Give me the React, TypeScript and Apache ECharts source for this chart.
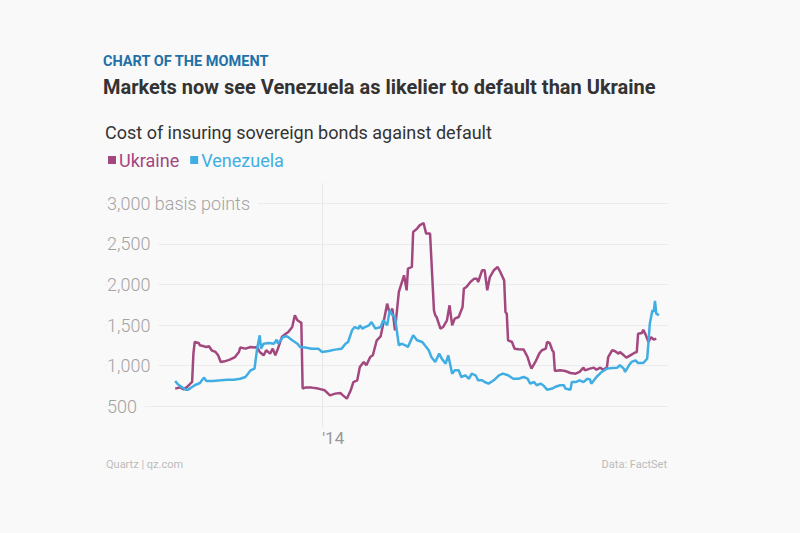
import React, { useEffect, useRef } from 'react';
import * as echarts from 'echarts';

// Days counted from 1 Jan 2014
const ukraineDays = [-113,-109,-107,-104,-100,-99,-98,-95,-94,-91,-89,-87,-85,-82,-80,-78,-75,-71,-67,-64,-63,-59,-55,-52,-50,-48,-45,-43,-40,-38,-36,-34,-31,-28,-26,-23,-21,-19,-17,-16,-15,-13,-8,-3,2,6,10,14,16,19,22,24,27,29,32,34,37,39,42,45,47,50,52,54,56,59,61,63,65,66,69,70,73,75,78,80,83,86,87,88,91,93,96,98,100,102,105,108,109,111,114,117,119,120,123,125,127,129,132,135,137,140,141,142,143,146,148,151,155,158,160,161,164,167,169,172,173,175,177,178,179,183,187,191,195,198,201,202,206,209,211,214,216,219,220,223,225,228,229,232,234,237,240,242,243,246,247,249,251,253,255,257];
const ukraineValues = [718,734,709,737,800,1150,1292,1280,1251,1239,1230,1239,1190,1169,1128,1046,1054,1075,1107,1169,1223,1210,1230,1223,1230,1169,1128,1190,1149,1210,1128,1210,1353,1394,1415,1476,1621,1559,1538,1530,718,730,730,718,697,635,656,664,635,594,697,799,820,984,1046,1005,1107,1128,1313,1362,1518,1764,1641,1703,1436,1908,2011,2113,1928,2195,2216,2647,2688,2729,2757,2627,2627,1682,1621,1600,1456,1476,1559,1744,1497,1580,1600,1723,1949,1969,2031,2072,2072,2031,2175,2175,1928,2092,2175,2216,2154,2051,1662,1641,1313,1292,1210,1202,1198,1107,1005,964,1046,1149,1190,1210,1292,1280,1190,1169,935,943,935,910,902,923,976,943,964,976,951,976,951,976,1107,1190,1182,1149,1169,1128,1099,1128,1157,1169,1394,1403,1444,1374,1292,1353,1321,1333];

const venezuelaDays = [-113,-111,-108,-105,-103,-100,-98,-94,-91,-89,-84,-78,-73,-68,-63,-59,-57,-55,-52,-50,-48,-47,-45,-41,-37,-35,-34,-30,-27,-23,-19,-17,-13,-8,-3,0,5,10,15,18,20,23,25,28,29,31,33,36,38,41,45,47,50,52,54,56,59,61,64,66,70,73,77,79,82,84,87,90,92,95,97,100,102,105,107,110,113,115,118,120,123,125,128,132,136,139,143,147,151,155,158,160,163,165,168,170,173,177,179,183,186,187,191,192,195,198,201,204,206,207,211,215,219,223,227,229,232,233,236,238,241,243,247,250,251,252,254,255,256,257,259];
const venezuelaValues = [812,771,738,705,705,738,759,787,853,812,812,820,828,828,840,861,902,943,964,1210,1374,1210,1271,1280,1271,1321,1271,1353,1362,1313,1271,1230,1223,1210,1210,1169,1182,1198,1210,1271,1292,1436,1476,1456,1497,1456,1476,1497,1538,1456,1476,1559,1497,1682,1621,1600,1251,1271,1251,1230,1374,1313,1292,1251,1190,1107,1046,1149,1087,1025,1128,902,943,943,861,882,840,902,882,820,820,799,779,820,882,902,882,840,840,861,840,779,799,759,779,759,705,718,738,759,759,718,705,799,799,820,799,840,832,779,861,923,964,972,976,1005,964,923,1005,1046,1066,1033,1033,1087,1292,1518,1682,1662,1797,1641,1621];

const xStartDay = -167;
const xEndDay = 266;
const yTickLabels: Record<number, string> = {
  500: '500',
  1000: '1,000',
  1500: '1,500',
  2000: '2,000',
  2500: '2,500',
  3000: '3,000 basis points',
};

const PURPLE = '#a3477f';
const BLUE = '#41aee3';
const BG = '#f9f9f9';
const FONT = 'Roboto, "Noto Sans", sans-serif';

const dayToTime = (d: number) => new Date(2014, 0, 1 + d).getTime();

export default function App() {
  const ref = useRef<HTMLDivElement>(null);
  useEffect(() => {
    if (!ref.current) return;
    const chart = echarts.init(ref.current, undefined, { renderer: 'svg' });
    chart.setOption({
      animation: false,
      backgroundColor: BG,
      textStyle: { fontFamily: FONT },
      graphic: [
        {
          type: 'text', left: 103, top: 54,
          style: { text: 'CHART OF THE MOMENT', fill: '#2270a8', font: `bold 14.5px ${FONT}` },
        },
        {
          type: 'text', left: 103, top: 77,
          style: { text: 'Markets now see Venezuela as likelier to default than Ukraine', fill: '#333333', font: `bold 20px ${FONT}` },
        },
        {
          type: 'text', left: 105, top: 123,
          style: { text: 'Cost of insuring sovereign bonds against default', fill: '#333333', font: `18px ${FONT}` },
        },
        {
          type: 'text', left: 106, top: 459,
          style: { text: 'Quartz | qz.com', fill: '#bbbbbb', font: `11px ${FONT}` },
        },
        {
          type: 'text', right: 133, top: 459,
          style: { text: 'Data: FactSet', fill: '#bbbbbb', font: `11px ${FONT}` },
        },
      ],
      legend: {
        left: 103,
        top: 146,
        icon: 'rect',
        itemWidth: 8,
        itemHeight: 8,
        itemGap: 11,
        textStyle: { fontSize: 18, fontFamily: FONT, padding: [0, 0, 0, -2] },
        data: [
          { name: 'Ukraine', textStyle: { color: PURPLE } },
          { name: 'Venezuela', textStyle: { color: BLUE } },
        ],
      },
      grid: { left: 105, right: 132, top: 183, height: 243.6 },
      xAxis: {
        type: 'time',
        min: dayToTime(xStartDay),
        max: dayToTime(xEndDay),
        axisLine: { show: false },
        axisTick: { show: false },
        splitLine: { show: false },
        axisLabel: {
          align: 'left',
          margin: 3,
          color: '#999999',
          fontSize: 17,
          fontFamily: FONT,
          showMinLabel: false,
          showMaxLabel: false,
          formatter: (v: number) => {
            const d = new Date(v);
            return d.getFullYear() === 2014 && d.getMonth() === 0 && d.getDate() === 1 ? "'14" : '';
          },
        },
      },
      yAxis: {
        type: 'value',
        min: 250,
        max: 3250,
        interval: 250,
        axisLine: { show: false },
        axisTick: { show: false },
        axisLabel: {
          inside: true,
          margin: 2,
          color: '#a3a3a3',
          fontSize: 18,
          fontWeight: 300,
          fontFamily: FONT,
          backgroundColor: BG,
          padding: [2, 8, 2, 0],
          formatter: (v: number) => yTickLabels[v] || '',
        },
        splitLine: {
          show: true,
          showMinLine: false,
          showMaxLine: false,
          lineStyle: { color: ['#ebebeb', 'rgba(0,0,0,0)'], width: 1 },
        },
      },
      series: [
        {
          name: 'Ukraine',
          type: 'line',
          showSymbol: false,
          symbol: 'none',
          color: PURPLE,
          lineStyle: { width: 2.5, color: PURPLE },
          data: ukraineDays.map((d, i) => [dayToTime(d), ukraineValues[i]]),
          markLine: {
            silent: true,
            z: 1,
            symbol: ['none', 'none'],
            label: { show: false },
            lineStyle: { color: '#e8e8e8', type: 'solid', width: 1 },
            data: [{ xAxis: dayToTime(0) }],
          },
        },
        {
          name: 'Venezuela',
          type: 'line',
          showSymbol: false,
          symbol: 'none',
          color: BLUE,
          lineStyle: { width: 2.5, color: BLUE },
          data: venezuelaDays.map((d, i) => [dayToTime(d), venezuelaValues[i]]),
        },
      ],
    });
    return () => chart.dispose();
  }, []);
  return (
    <div style={{ position: 'fixed', left: 0, top: 0, width: 800, height: 533, background: BG }}>
      <div ref={ref} style={{ width: 800, height: 533 }} />
    </div>
  );
}
